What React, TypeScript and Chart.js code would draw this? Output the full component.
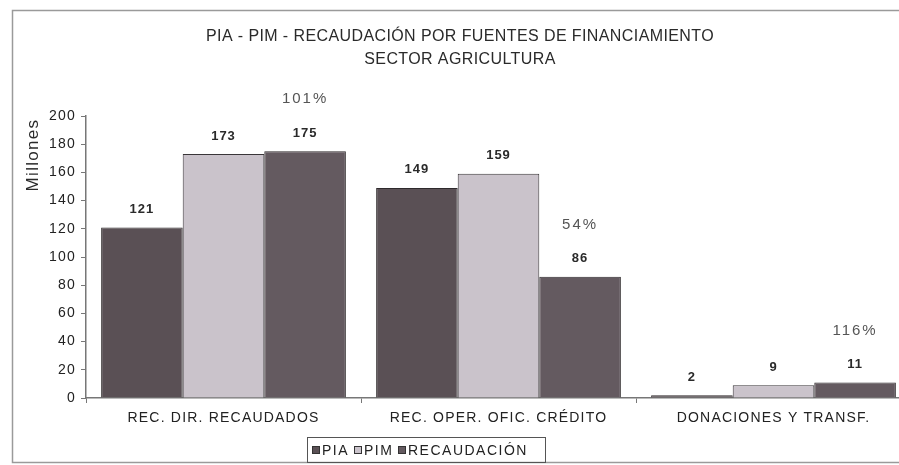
import React, { useEffect, useRef } from "react";
import { Chart, registerables } from "chart.js";

Chart.register(...registerables);

const categories = ["REC. DIR. RECAUDADOS", "REC. OPER. OFIC. CRÉDITO", "DONACIONES Y TRANSF."];
const piaValues = [121, 149, 2];
const pimValues = [173, 159, 9];
const recValues = [175, 86, 11];
const pctLabels = ["101%", "54%", "116%"];
const yTicks = [0, 20, 40, 60, 80, 100, 120, 140, 160, 180, 200];
const titleLines = ["PIA - PIM - RECAUDACIÓN POR FUENTES DE FINANCIAMIENTO", "SECTOR AGRICULTURA"];
const seriesNames = ["PIA", "PIM", "RECAUDACIÓN"];
const seriesColors = ["#5a5055", "#cac3cb", "#645a60"];

const FONT = "'Liberation Sans', Arial, sans-serif";

const decorPlugin = {
  id: "decor",
  beforeDraw(chart: any) {
    const ctx = chart.ctx;
    ctx.save();
    ctx.fillStyle = "#ffffff";
    ctx.fillRect(0, 0, chart.width, chart.height);
    ctx.strokeStyle = "#9a9a9a";
    ctx.lineWidth = 1.5;
    ctx.strokeRect(12.5, 10.5, chart.width + 20, 452);
    ctx.restore();
    ctx.letterSpacing = "1.2px";
  },
  afterDraw(chart: any) {
    const ctx = chart.ctx;
    ctx.save();
    // Title
    ctx.fillStyle = "#2a2a2a";
    ctx.letterSpacing = "0.4px";
    ctx.font = `16px ${FONT}`;
    ctx.textAlign = "center";
    ctx.textBaseline = "middle";
    ctx.fillText(titleLines[0], 460, 37);
    ctx.fillText(titleLines[1], 460, 60);
    // Y axis title
    ctx.save();
    ctx.translate(33, 155);
    ctx.rotate(-Math.PI / 2);
    ctx.letterSpacing = "1.3px";
    ctx.font = `17px ${FONT}`;
    ctx.fillStyle = "#2a2a2a";
    ctx.fillText("Millones", 0, 0);
    ctx.restore();
    // Value labels
    chart.data.datasets.forEach((ds: any, di: number) => {
      const meta = chart.getDatasetMeta(di);
      meta.data.forEach((bar: any, i: number) => {
        ctx.letterSpacing = "1px";
        ctx.font = `bold 13px ${FONT}`;
        ctx.fillStyle = "#2a2a2a";
        ctx.fillText(String(ds.data[i]), bar.x, bar.y - 18);
        if (di === 2) {
          ctx.letterSpacing = "2px";
          ctx.font = `15px ${FONT}`;
          ctx.fillStyle = "#555555";
          ctx.fillText(pctLabels[i], bar.x, bar.y - 52);
        }
      });
    });
    // Legend
    ctx.strokeStyle = "#555555";
    ctx.lineWidth = 1;
    ctx.strokeRect(307.5, 437.5, 238, 25);
    const items = [
      { sq: 312, tx: 322 },
      { sq: 354, tx: 364 },
      { sq: 398, tx: 408 },
    ];
    ctx.textAlign = "left";
    ctx.letterSpacing = "1.5px";
    ctx.font = `14px ${FONT}`;
    items.forEach((it, i) => {
      ctx.fillStyle = seriesColors[i];
      ctx.fillRect(it.sq, 446, 7, 7);
      ctx.strokeStyle = "#333333";
      ctx.strokeRect(it.sq + 0.5, 446.5, 7, 7);
      ctx.fillStyle = "#222222";
      ctx.fillText(seriesNames[i], it.tx, 451);
    });
    ctx.restore();
  },
};

export default function App() {
  const ref = useRef<HTMLCanvasElement>(null);
  useEffect(() => {
    if (!ref.current) return;
    const chart = new Chart(ref.current, {
      type: "bar",
      data: {
        labels: categories,
        datasets: [
          { label: seriesNames[0], data: piaValues, backgroundColor: seriesColors[0], borderColor: "#2e2a2c", borderWidth: 1 },
          { label: seriesNames[1], data: pimValues, backgroundColor: seriesColors[1], borderColor: "#3a3639", borderWidth: 1 },
          { label: seriesNames[2], data: recValues, backgroundColor: seriesColors[2], borderColor: "#2e2a2c", borderWidth: 1 },
        ],
      },
      options: {
        responsive: false,
        animation: false,
        devicePixelRatio: 1,
        layout: { padding: { left: 0, top: 116, right: 19, bottom: 0 } },
        plugins: { legend: { display: false }, tooltip: { enabled: false }, title: { display: false } },
        datasets: { bar: { categoryPercentage: 0.89, barPercentage: 1.0 } },
        scales: {
          x: {
            afterFit: (s: any) => { s.height = 67; },
            grid: { display: true, drawOnChartArea: false, offset: true, tickLength: 5, color: "#777777" },
            border: { display: true, color: "#777777", width: 1.5 },
            ticks: { color: "#222222", font: { family: FONT, size: 14 }, padding: 7, maxRotation: 0 },
          },
          y: {
            min: 0,
            max: 200,
            afterFit: (s: any) => { s.width = 86; },
            afterBuildTicks: (s: any) => { s.ticks = yTicks.map((v) => ({ value: v })); },
            grid: { display: true, drawOnChartArea: false, tickLength: 5, color: "#777777" },
            border: { display: true, color: "#777777", width: 1.5 },
            ticks: { color: "#222222", font: { family: FONT, size: 14 }, padding: 5 },
          },
        },
      },
      plugins: [decorPlugin],
    });
    return () => chart.destroy();
  }, []);
  return (
    <div style={{ position: "fixed", left: 0, top: 0, width: 899, height: 465, overflow: "hidden", background: "#fff" }}>
      <canvas ref={ref} width={930} height={465} style={{ width: 930, height: 465, display: "block" }} />
    </div>
  );
}
